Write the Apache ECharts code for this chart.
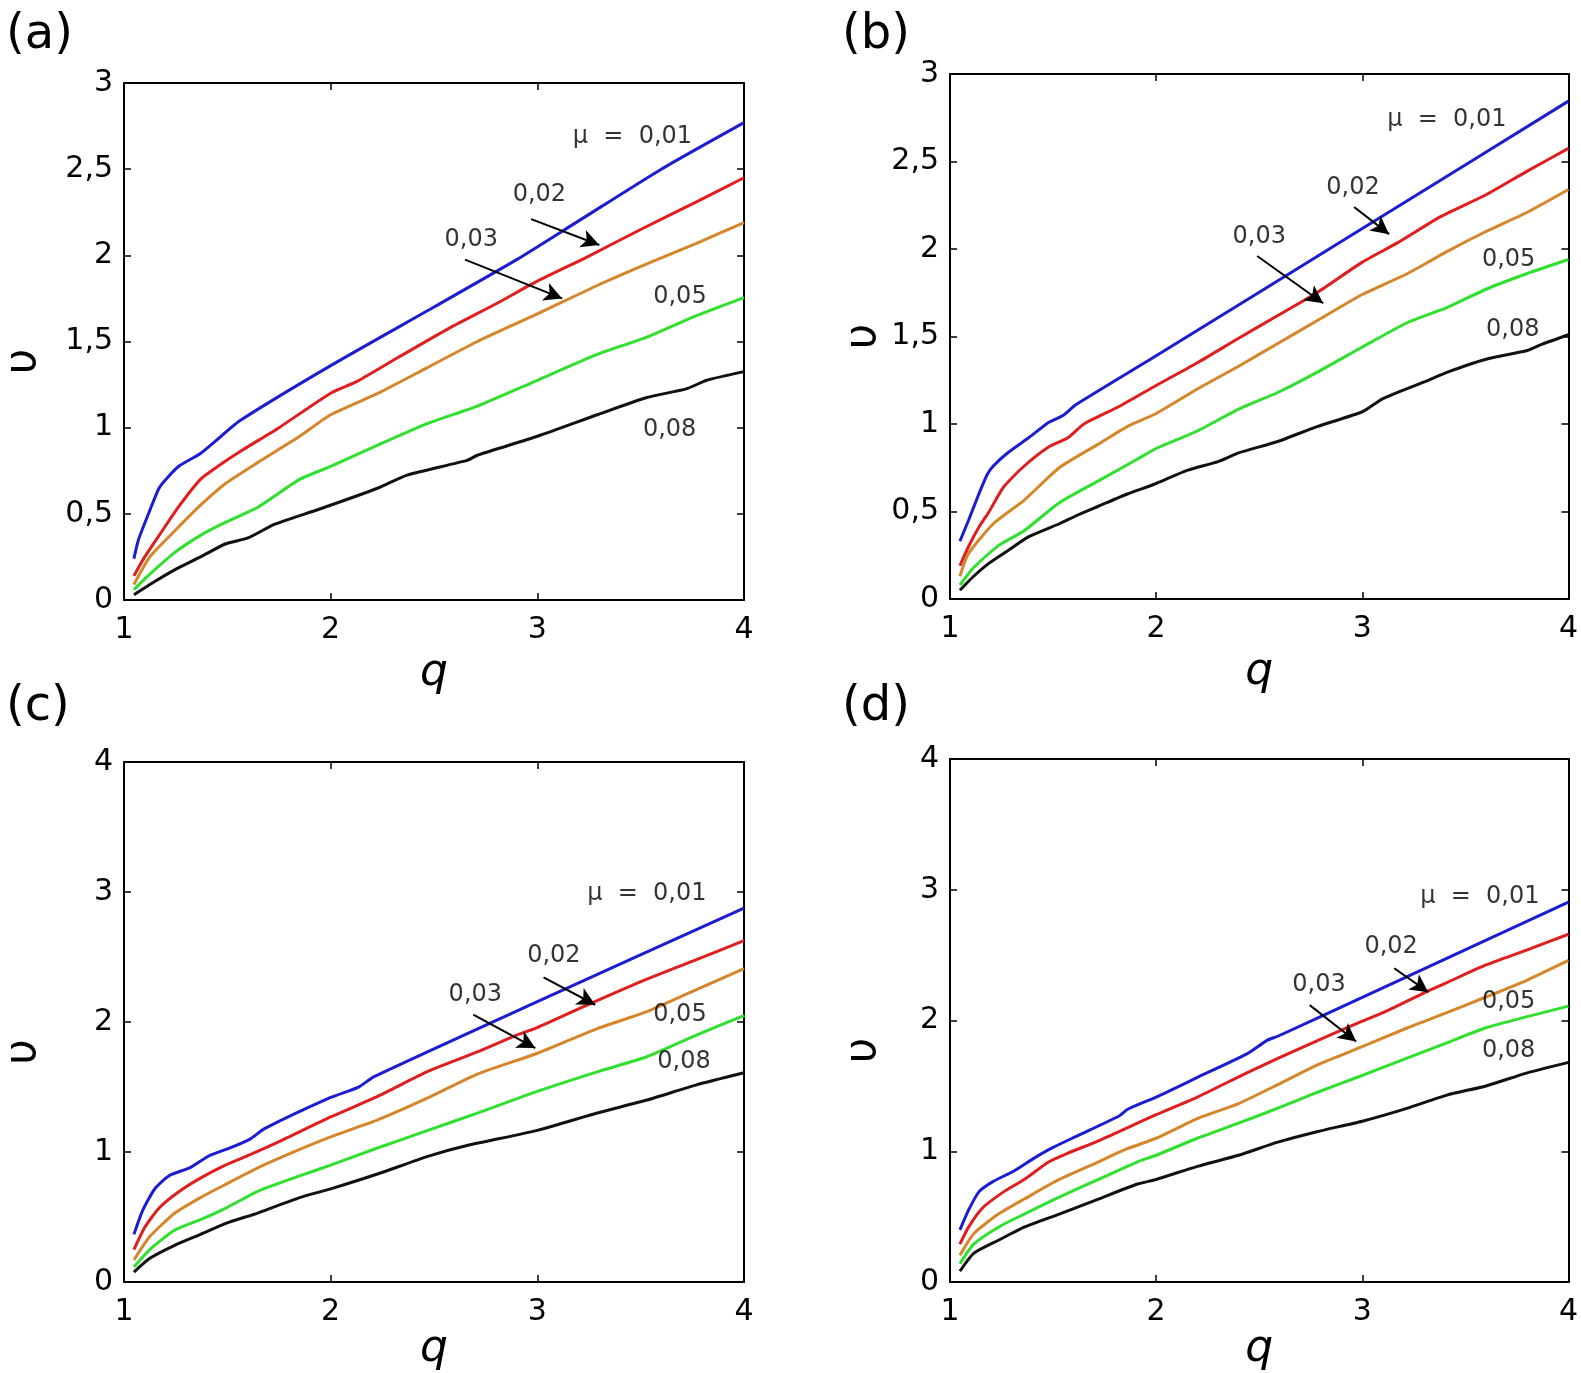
<!DOCTYPE html>
<html>
<head>
<meta charset="utf-8">
<script src="https://cdn.jsdelivr.net/npm/echarts@6/dist/echarts.min.js"></script>
<style>
  html, body { margin: 0; padding: 0; background: #fff; }
  #chart { width: 1581px; height: 1373px; }
</style>
</head>
<body>
<div id="chart"></div>
<script>
// values: [q, nu] pairs per mu
const aMu01 = [[1.048,0.24],[1.07,0.35],[1.125,0.52],[1.17,0.65],[1.21,0.71],[1.27,0.78],[1.37,0.85],[1.46,0.94],[1.56,1.04],[2.0,1.36],[2.5,1.70],[2.9,1.975],[3.2,2.2],[3.6,2.5],[4.0,2.77]];
const aMu02 = [[1.048,0.14],[1.10,0.25],[1.17,0.375],[1.27,0.55],[1.37,0.70],[1.46,0.78],[1.56,0.86],[1.75,1.0],[2.0,1.2],[2.13,1.27],[2.33,1.41],[2.57,1.575],[2.81,1.725],[3.0,1.85],[3.24,1.99],[3.5,2.15],[3.77,2.31],[4.0,2.45]];
const aMu03 = [[1.048,0.09],[1.125,0.25],[1.245,0.40],[1.37,0.55],[1.49,0.675],[1.65,0.80],[1.85,0.95],[2.0,1.075],[2.23,1.2],[2.47,1.35],[2.71,1.50],[3.0,1.66],[3.29,1.825],[3.53,1.95],[3.77,2.07],[4.0,2.19]];
const aMu05 = [[1.048,0.06],[1.125,0.15],[1.245,0.275],[1.37,0.375],[1.49,0.45],[1.65,0.54],[1.85,0.70],[2.0,0.775],[2.23,0.90],[2.47,1.025],[2.71,1.125],[3.0,1.275],[3.29,1.425],[3.53,1.525],[3.77,1.65],[4.0,1.755]];
const aMu08 = [[1.048,0.03],[1.125,0.09],[1.245,0.175],[1.37,0.25],[1.49,0.325],[1.6,0.36],[1.73,0.44],[1.94,0.525],[2.23,0.65],[2.37,0.725],[2.66,0.81],[2.71,0.84],[3.0,0.95],[3.29,1.075],[3.53,1.175],[3.72,1.225],[3.82,1.275],[4.0,1.325]];

const bMu01 = [[1.048,0.33],[1.09,0.45],[1.14,0.60],[1.18,0.71],[1.21,0.76],[1.285,0.84],[1.38,0.92],[1.48,1.01],[1.55,1.05],[1.61,1.11],[2.0,1.39],[3.0,2.117],[4.0,2.845]];
const bMu02 = [[1.048,0.19],[1.09,0.30],[1.14,0.41],[1.19,0.50],[1.26,0.64],[1.36,0.76],[1.48,0.87],[1.57,0.92],[1.65,1.0],[1.82,1.10],[2.0,1.22],[2.2,1.35],[2.4,1.49],[2.59,1.62],[2.78,1.75],[3.0,1.925],[3.17,2.035],[3.38,2.185],[3.6,2.31],[3.8,2.445],[4.0,2.575]];
const bMu03 = [[1.048,0.13],[1.09,0.26],[1.21,0.43],[1.36,0.565],[1.53,0.75],[1.72,0.885],[1.86,0.985],[2.0,1.06],[2.2,1.20],[2.4,1.33],[2.59,1.46],[2.78,1.59],[3.0,1.74],[3.22,1.86],[3.41,1.985],[3.6,2.10],[3.8,2.21],[4.0,2.34]];
const bMu05 = [[1.048,0.08],[1.115,0.18],[1.235,0.305],[1.36,0.39],[1.53,0.55],[1.72,0.675],[1.91,0.80],[2.0,0.86],[2.2,0.96],[2.4,1.085],[2.59,1.18],[2.78,1.295],[3.0,1.44],[3.22,1.58],[3.41,1.665],[3.6,1.77],[3.8,1.86],[4.0,1.94]];
const bMu08 = [[1.048,0.05],[1.115,0.13],[1.19,0.205],[1.285,0.28],[1.38,0.355],[1.53,0.43],[1.62,0.48],[1.72,0.53],[1.86,0.60],[2.0,0.66],[2.15,0.735],[2.3,0.785],[2.4,0.835],[2.59,0.90],[2.78,0.985],[3.0,1.07],[3.1,1.145],[3.31,1.245],[3.41,1.295],[3.6,1.37],[3.8,1.42],[3.87,1.455],[4.0,1.51]];

const cMu01 = [[1.048,0.367],[1.09,0.55],[1.15,0.72],[1.22,0.82],[1.32,0.88],[1.41,0.97],[1.51,1.03],[1.61,1.10],[1.68,1.18],[2.0,1.42],[2.135,1.5],[2.21,1.58],[3.0,2.157],[4.0,2.877]];
const cMu02 = [[1.048,0.25],[1.10,0.42],[1.17,0.57],[1.27,0.70],[1.37,0.80],[1.49,0.90],[1.61,0.98],[1.75,1.08],[2.0,1.27],[2.23,1.43],[2.47,1.62],[2.71,1.77],[2.9,1.90],[3.0,1.957],[3.24,2.13],[3.53,2.33],[3.77,2.48],[4.0,2.627]];
const cMu03 = [[1.048,0.17],[1.125,0.35],[1.245,0.53],[1.37,0.65],[1.49,0.75],[1.65,0.88],[1.85,1.02],[2.0,1.117],[2.23,1.25],[2.47,1.417],[2.71,1.60],[3.0,1.76],[3.29,1.95],[3.53,2.08],[3.77,2.25],[4.0,2.41]];
const cMu05 = [[1.048,0.117],[1.125,0.25],[1.245,0.40],[1.37,0.48],[1.49,0.567],[1.65,0.70],[1.85,0.817],[2.0,0.90],[2.23,1.033],[2.47,1.167],[2.71,1.30],[3.0,1.467],[3.29,1.617],[3.53,1.733],[3.77,1.90],[4.0,2.05]];
const cMu08 = [[1.048,0.077],[1.125,0.183],[1.245,0.283],[1.37,0.367],[1.49,0.45],[1.65,0.533],[1.85,0.65],[2.0,0.717],[2.23,0.833],[2.47,0.967],[2.66,1.05],[3.0,1.167],[3.29,1.30],[3.53,1.40],[3.77,1.517],[4.0,1.61]];

const dMu01 = [[1.048,0.40],[1.09,0.55],[1.14,0.69],[1.21,0.77],[1.31,0.85],[1.41,0.95],[1.50,1.03],[1.62,1.12],[1.82,1.27],[1.86,1.32],[2.0,1.415],[2.2,1.565],[2.44,1.745],[2.54,1.85],[2.59,1.88],[3.0,2.177],[4.0,2.906]];
const dMu02 = [[1.048,0.29],[1.09,0.42],[1.16,0.57],[1.26,0.69],[1.36,0.785],[1.48,0.92],[1.57,0.985],[1.72,1.08],[2.0,1.28],[2.2,1.415],[2.44,1.60],[2.59,1.71],[2.78,1.845],[3.0,1.995],[3.1,2.06],[3.31,2.22],[3.41,2.29],[3.6,2.425],[3.8,2.54],[4.0,2.66]];
const dMu03 = [[1.048,0.205],[1.115,0.37],[1.235,0.52],[1.36,0.635],[1.53,0.785],[1.72,0.92],[1.86,1.02],[2.0,1.10],[2.2,1.25],[2.4,1.365],[2.59,1.51],[2.78,1.66],[3.0,1.80],[3.22,1.945],[3.41,2.06],[3.6,2.18],[3.8,2.31],[4.0,2.46]];
const dMu05 = [[1.048,0.14],[1.115,0.29],[1.235,0.42],[1.36,0.52],[1.53,0.65],[1.72,0.785],[1.91,0.92],[2.0,0.97],[2.2,1.10],[2.4,1.215],[2.59,1.33],[2.78,1.45],[3.0,1.58],[3.22,1.715],[3.41,1.83],[3.6,1.945],[3.8,2.03],[4.0,2.11]];
const dMu08 = [[1.048,0.083],[1.115,0.22],[1.235,0.32],[1.36,0.42],[1.53,0.52],[1.72,0.635],[1.91,0.75],[2.0,0.785],[2.2,0.885],[2.4,0.97],[2.59,1.07],[2.78,1.15],[3.0,1.23],[3.22,1.33],[3.41,1.43],[3.6,1.50],[3.8,1.60],[4.0,1.68]];

// annotation texts [text, q, nu] and arrows [q0, nu0, q1, nu1]
const aLabels = [["μ  =  0,01",3.46,2.69],["0,02",3.01,2.35],["0,03",2.68,2.09],["0,05",3.69,1.76],["0,08",3.64,0.99]];
const aArrows = [[2.97,2.21,3.30,2.06],[2.65,1.975,3.12,1.75]];
const bLabels = [["μ  =  0,01",3.41,2.74],["0,02",2.955,2.35],["0,03",2.50,2.07],["0,05",3.71,1.94],["0,08",3.73,1.54]];
const bArrows = [[2.96,2.24,3.13,2.085],[2.49,1.96,2.81,1.69]];
const cLabels = [["μ  =  0,01",3.53,2.983],["0,02",3.08,2.51],["0,03",2.70,2.21],["0,05",3.69,2.057],["0,08",3.71,1.693]];
const cArrows = [[3.03,2.343,3.28,2.133],[2.69,2.057,2.99,1.80]];
const dLabels = [["μ  =  0,01",3.57,2.946],["0,02",3.14,2.568],["0,03",2.79,2.277],["0,05",3.71,2.144],["0,08",3.71,1.77]];
const dArrows = [[3.155,2.40,3.32,2.217],[2.745,2.118,2.97,1.84]];

const muNames = ["0,01", "0,02", "0,03", "0,05", "0,08"];
const lineColors = ["#1c1cd0", "#e01e1e", "#d6862a", "#2fe02f", "#111111"];
const qTicks = [1, 2, 3, 4];

const panels = [
  { tag: "(a)", tagPos: [6, 12], grid: { left: 124, top: 83, width: 620, height: 517 },
    yMax: 3, yStep: 0.5, curves: [aMu01, aMu02, aMu03, aMu05, aMu08],
    labels: aLabels, arrows: aArrows, qGap: 52, vGap: 78, vShift: 40 },
  { tag: "(b)", tagPos: [842, 12], grid: { left: 950, top: 74, width: 620, height: 525 },
    yMax: 3, yStep: 0.5, curves: [bMu01, bMu02, bMu03, bMu05, bMu08],
    labels: bLabels, arrows: bArrows, qGap: 52, vGap: 64, vShift: 0 },
  { tag: "(c)", tagPos: [6, 684], grid: { left: 124, top: 762, width: 620, height: 531 },
    yMax: 4, yStep: 1, curves: [cMu01, cMu02, cMu03, cMu05, cMu08],
    labels: cLabels, arrows: cArrows, qGap: 36, vGap: 78, vShift: 60 },
  { tag: "(d)", tagPos: [842, 684], grid: { left: 950, top: 759, width: 620, height: 533 },
    yMax: 4, yStep: 1, curves: [dMu01, dMu02, dMu03, dMu05, dMu08],
    labels: dLabels, arrows: dArrows, qGap: 36, vGap: 64, vShift: 60 }
];

const numFont = "DejaVu Sans";
const comma = (v) => String(v).replace(".", ",");

const boxLine = { show: true, onZero: false, lineStyle: { color: "#000", width: 2 } };
const inTick = { show: true, inside: true, length: 7, lineStyle: { color: "#000", width: 1.5 } };

const option = {
  animation: false,
  backgroundColor: "#fff",
  title: [],
  grid: [],
  xAxis: [],
  yAxis: [],
  series: []
};

panels.forEach((p, i) => {
  option.title.push({
    text: p.tag, left: p.tagPos[0], top: p.tagPos[1], padding: 0,
    textStyle: { fontFamily: numFont, fontSize: 48, fontWeight: "normal", color: "#000" }
  });
  option.grid.push(p.grid);

  option.xAxis.push({
    type: "value", gridIndex: i, position: "bottom", min: qTicks[0], max: qTicks[qTicks.length - 1], interval: 1,
    name: "q", nameLocation: "middle", nameGap: p.qGap,
    nameTextStyle: { fontFamily: numFont, fontStyle: "italic", fontSize: 44, color: "#000" },
    axisLine: boxLine, axisTick: inTick, splitLine: { show: false },
    axisLabel: { margin: 15, fontFamily: numFont, fontSize: 30, color: "#000" }
  });
  option.xAxis.push({
    type: "value", gridIndex: i, position: "top", min: qTicks[0], max: qTicks[qTicks.length - 1], interval: 1,
    axisLine: boxLine, axisTick: inTick, axisLabel: { show: false }, splitLine: { show: false }
  });

  option.yAxis.push({
    type: "value", gridIndex: i, position: "left", min: 0, max: p.yMax, interval: p.yStep,
    name: "υ", nameLocation: "middle", nameGap: p.vGap, nameRotate: 90,
    nameTextStyle: { fontFamily: numFont, fontSize: 44, color: "#000", padding: [0, p.vShift, 0, 0] },
    axisLine: boxLine, axisTick: inTick, splitLine: { show: false },
    axisLabel: { margin: 11, fontFamily: numFont, fontSize: 30, color: "#000", formatter: comma }
  });
  option.yAxis.push({
    type: "value", gridIndex: i, position: "right", min: 0, max: p.yMax, interval: p.yStep,
    axisLine: boxLine, axisTick: inTick, axisLabel: { show: false }, splitLine: { show: false }
  });

  p.curves.forEach((c, k) => {
    option.series.push({
      name: "μ = " + muNames[k], type: "line", xAxisIndex: 2 * i, yAxisIndex: 2 * i,
      data: c, showSymbol: false, smooth: 0.2, silent: true,
      lineStyle: { color: lineColors[k], width: 3 }, z: 3
    });
  });

  option.series.push({
    type: "scatter", xAxisIndex: 2 * i, yAxisIndex: 2 * i, silent: true,
    symbolSize: 1, itemStyle: { color: "rgba(0,0,0,0)" },
    data: p.labels.map((l) => ({ name: l[0], value: [l[1], l[2]] })),
    label: { show: true, position: "inside", formatter: "{b}", fontFamily: numFont, fontSize: 24, color: "#000" },
    markLine: {
      silent: true, symbol: ["none", "arrow"], symbolSize: [14, 18],
      lineStyle: { color: "#000", width: 2, type: "solid" }, label: { show: false },
      data: p.arrows.map((a) => [{ coord: [a[0], a[1]] }, { coord: [a[2], a[3]] }])
    },
    z: 5
  });
});

const chart = echarts.init(document.getElementById("chart"));
chart.setOption(option);
</script>
</body>
</html>
